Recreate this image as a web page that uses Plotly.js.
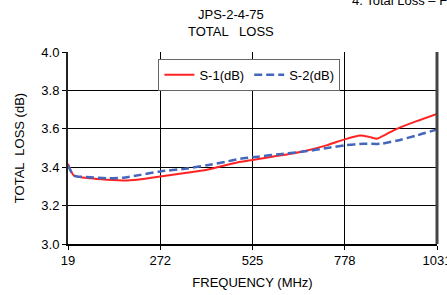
<!DOCTYPE html>
<html><head><meta charset="utf-8">
<script src="https://cdn.plot.ly/plotly-3.0.1.min.js"></script>
<style>html,body{margin:0;padding:0;background:#fff}#c{width:447px;height:295px}</style>
</head><body><div id="c"></div>
<script>
var freq1 = [19, 35, 80, 126, 181, 230, 272, 340, 400, 483, 525, 583, 630, 675, 730, 778, 820, 845, 866, 890, 921, 975, 1031];
var s1 = [3.418, 3.357, 3.342, 3.335, 3.331, 3.34, 3.352, 3.37, 3.387, 3.425, 3.438, 3.456, 3.47, 3.487, 3.515, 3.545, 3.565, 3.558, 3.548, 3.57, 3.6, 3.64, 3.678];
var freq2 = [19, 35, 80, 126, 170, 218, 272, 340, 400, 450, 492, 540, 600, 675, 730, 778, 830, 876, 920, 975, 1031];
var s2 = [3.41, 3.357, 3.348, 3.342, 3.345, 3.36, 3.378, 3.392, 3.41, 3.428, 3.444, 3.455, 3.468, 3.484, 3.5, 3.514, 3.522, 3.522, 3.538, 3.565, 3.597];
var xTicks = [19, 272, 525, 778, 1031];
var yTicks = [3.0, 3.2, 3.4, 3.6, 3.8, 4.0];
var names = ['S-1(dB)', 'S-2(dB)'];

var font = 'Arial, "Liberation Sans", sans-serif';
var data = [
  {x: freq1, y: s1, name: names[0], mode: 'lines', line: {color: '#ff2222', width: 2, shape: 'spline', smoothing: 0.6}},
  {x: freq2, y: s2, name: names[1], mode: 'lines', line: {color: '#4466bb', width: 2.5, dash: '8px,4px', shape: 'spline', smoothing: 0.6}}
];
var layout = {
  width: 447, height: 295,
  margin: {l: 67.5, r: 10.3, t: 51.5, b: 51.3},
  paper_bgcolor: '#fff', plot_bgcolor: '#fff',
  font: {family: font, color: '#000', size: 13},
  showlegend: true,
  legend: {orientation: 'h', x: 0.245, y: 0.965, xanchor: 'left', yanchor: 'top',
    bgcolor: '#fff', bordercolor: '#666', borderwidth: 1, font: {size: 13, family: font},
    itemwidth: 30, tracegroupgap: 0},
  xaxis: {range: [19, 1031], tickvals: xTicks, ticktext: xTicks.map(String),
    showgrid: true, gridcolor: '#000', gridwidth: 1,
    showline: true, linecolor: '#000', linewidth: 1.5, mirror: false,
    ticks: 'outside', ticklen: 4, tickcolor: '#000', tickfont: {size: 13},
    ticklabeloverflow: 'allow',
    zeroline: false,
    title: {text: 'FREQUENCY (MHz)', font: {size: 13}, standoff: 11}},
  yaxis: {range: [3.0, 4.0], tickvals: yTicks, ticktext: yTicks.map(function(v){return v.toFixed(1);}),
    showgrid: true, gridcolor: '#000', gridwidth: 1,
    showline: true, linecolor: '#222', linewidth: 2,
    ticks: 'outside', ticklen: 4, tickcolor: '#000', tickfont: {size: 13},
    zeroline: false,
    title: {text: 'TOTAL  LOSS (dB)', font: {size: 13}, standoff: 14}},
  shapes: [
    {type: 'line', xref: 'paper', yref: 'paper', x0: 1, x1: 1, y0: 0, y1: 1, line: {color: '#444', width: 3}}
  ],
  annotations: [
    {text: 'JPS-2-4-75<br>TOTAL   LOSS', xref: 'paper', yref: 'paper', x: 0.443, y: 1.055, xanchor: 'center', yanchor: 'bottom',
      showarrow: false, font: {size: 13}},
    {text: '4. Total Loss – Frequency', xref: 'paper', yref: 'paper', x: (350 - 67.5) / 369.2, y: 1.27, xanchor: 'left', yanchor: 'middle',
      showarrow: false, font: {size: 13}}
  ]
};
Plotly.newPlot('c', data, layout, {displayModeBar: false, staticPlot: true});
</script>
</body></html>
